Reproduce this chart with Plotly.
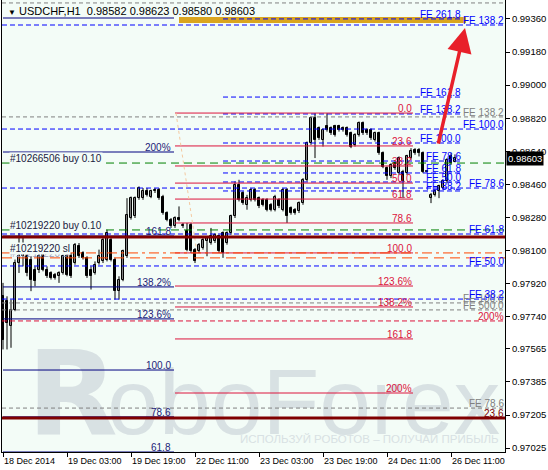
import plotly.graph_objects as go

# ---------------- price data (USDCHF H1) ----------------
opens = [0.97851, 0.97824, 0.97689, 0.97779, 0.98032, 0.98069, 0.98069, 0.98051, 0.97996, 0.97996,
         0.98078, 0.97996, 0.97978, 0.97969, 0.97960, 0.97978, 0.98069, 0.98069, 0.98032, 0.98123,
         0.98087, 0.98060, 0.97996, 0.97978, 0.98032, 0.98041, 0.98051, 0.98159, 0.98051, 0.97879,
         0.97942, 0.98069, 0.98277, 0.98286, 0.98385, 0.98385, 0.98422, 0.98394, 0.98422, 0.98431,
         0.98394, 0.98304, 0.98268, 0.98232, 0.98277, 0.98232, 0.98204, 0.98241, 0.98105, 0.98096,
         0.98114, 0.98150, 0.98141, 0.98150, 0.98177, 0.98195, 0.98141, 0.98195, 0.98286, 0.98458,
         0.98413, 0.98349, 0.98376, 0.98431, 0.98385, 0.98376, 0.98376, 0.98349, 0.98322, 0.98376,
         0.98322, 0.98431, 0.98331, 0.98322, 0.98313, 0.98358, 0.98485, 0.98684, 0.98820, 0.98765,
         0.98702, 0.98775, 0.98765, 0.98775, 0.98775, 0.98765, 0.98765, 0.98738, 0.98675, 0.98729,
         0.98793, 0.98756, 0.98756, 0.98702, 0.98738, 0.98630, 0.98548, 0.98503, 0.98575, 0.98521,
         0.98530, 0.98521, 0.98603, 0.98648, 0.98648, 0.98630, 0.98534, 0.98385, 0.98403, 0.98422,
         0.98440, 0.98476, 0.98612, 0.98582]
highs = [0.97924, 0.97851, 0.97833, 0.98051, 0.98195, 0.98177, 0.98087, 0.98069, 0.98014, 0.98087,
         0.98087, 0.98014, 0.97987, 0.97978, 0.97987, 0.98078, 0.98087, 0.98087, 0.98141, 0.98141,
         0.98096, 0.98069, 0.98014, 0.98041, 0.98105, 0.98168, 0.98213, 0.98168, 0.98060, 0.97960,
         0.98105, 0.98385, 0.98394, 0.98394, 0.98449, 0.98440, 0.98440, 0.98431, 0.98440, 0.98440,
         0.98403, 0.98313, 0.98277, 0.98286, 0.98340, 0.98250, 0.98250, 0.98250, 0.98114, 0.98141,
         0.98168, 0.98177, 0.98223, 0.98195, 0.98186, 0.98204, 0.98204, 0.98295, 0.98476, 0.98485,
         0.98422, 0.98403, 0.98440, 0.98440, 0.98394, 0.98385, 0.98385, 0.98358, 0.98403, 0.98385,
         0.98440, 0.98440, 0.98340, 0.98331, 0.98367, 0.98494, 0.98693, 0.98829, 0.98847, 0.98775,
         0.98765, 0.98847, 0.98775, 0.98784, 0.98784, 0.98775, 0.98775, 0.98747, 0.98738, 0.98802,
         0.98802, 0.98765, 0.98765, 0.98747, 0.98747, 0.98639, 0.98557, 0.98575, 0.98584, 0.98612,
         0.98539, 0.98621, 0.98657, 0.98657, 0.98657, 0.98639, 0.98536, 0.98413, 0.98431, 0.98458,
         0.98485, 0.98603, 0.98630, 0.98623]
lows = [0.97562, 0.97562, 0.97571, 0.97770, 0.97978, 0.98014, 0.97960, 0.97879, 0.97906, 0.97978,
        0.97987, 0.97951, 0.97942, 0.97942, 0.97924, 0.97969, 0.97960, 0.97951, 0.98023, 0.98060,
        0.98051, 0.97951, 0.97888, 0.97969, 0.98023, 0.98032, 0.98041, 0.98041, 0.97833, 0.97833,
        0.97933, 0.98060, 0.98268, 0.98277, 0.98376, 0.98376, 0.98394, 0.98385, 0.98413, 0.98376,
        0.98295, 0.98259, 0.98223, 0.98223, 0.98259, 0.98223, 0.98096, 0.98087, 0.98032, 0.98087,
        0.98105, 0.98069, 0.98132, 0.98141, 0.98087, 0.98060, 0.98132, 0.98186, 0.98277, 0.98367,
        0.98349, 0.98322, 0.98367, 0.98367, 0.98331, 0.98340, 0.98313, 0.98313, 0.98313, 0.98331,
        0.98313, 0.98250, 0.98295, 0.98295, 0.98304, 0.98349, 0.98476, 0.98675, 0.98603, 0.98702,
        0.98666, 0.98747, 0.98729, 0.98720, 0.98747, 0.98747, 0.98720, 0.98657, 0.98666, 0.98720,
        0.98729, 0.98729, 0.98702, 0.98693, 0.98621, 0.98548, 0.98485, 0.98494, 0.98539, 0.98512,
        0.98385, 0.98512, 0.98594, 0.98621, 0.98612, 0.98521, 0.98525, 0.98358, 0.98394, 0.98385,
        0.98431, 0.98467, 0.98566, 0.98580]
closes = [0.97616, 0.97707, 0.97779, 0.98032, 0.98069, 0.98105, 0.97978, 0.97942, 0.97933, 0.98069,
          0.97996, 0.97960, 0.97951, 0.97951, 0.97978, 0.98069, 0.97969, 0.97960, 0.98132, 0.98069,
          0.98060, 0.97960, 0.97960, 0.98023, 0.98069, 0.98159, 0.98195, 0.98051, 0.97879, 0.97942,
          0.98096, 0.98295, 0.98385, 0.98385, 0.98440, 0.98422, 0.98403, 0.98422, 0.98431, 0.98385,
          0.98304, 0.98268, 0.98232, 0.98277, 0.98268, 0.98241, 0.98105, 0.98096, 0.98041, 0.98132,
          0.98159, 0.98168, 0.98177, 0.98186, 0.98096, 0.98087, 0.98195, 0.98286, 0.98458, 0.98376,
          0.98358, 0.98385, 0.98431, 0.98376, 0.98340, 0.98349, 0.98322, 0.98322, 0.98394, 0.98340,
          0.98431, 0.98286, 0.98304, 0.98304, 0.98358, 0.98485, 0.98684, 0.98820, 0.98702, 0.98711,
          0.98756, 0.98756, 0.98738, 0.98729, 0.98756, 0.98756, 0.98729, 0.98666, 0.98729, 0.98796,
          0.98738, 0.98738, 0.98711, 0.98738, 0.98630, 0.98557, 0.98503, 0.98566, 0.98548, 0.98603,
          0.98476, 0.98612, 0.98639, 0.98630, 0.98630, 0.98530, 0.98527, 0.98403, 0.98422, 0.98449,
          0.98476, 0.98594, 0.98575, 0.98603]
bars = list(range(len(opens)))

# ---------------- axes ----------------
x_tick_bars = [0, 16, 32, 48, 64, 80, 96, 112]
x_tick_labels = ["18 Dec 2014", "19 Dec 03:00", "19 Dec 19:00", "22 Dec 11:00",
                 "23 Dec 03:00", "23 Dec 19:00", "24 Dec 11:00", "26 Dec 11:00"]
y_tick_values = [0.99360, 0.99180, 0.99000, 0.98820, 0.98640, 0.98460, 0.98280,
                 0.98100, 0.97920, 0.97740, 0.97565, 0.97385, 0.97205, 0.97025]
y_tick_labels = ["0.99360", "0.99180", "0.99000", "0.98820", "0.98640", "0.98460", "0.98280",
                 "0.98100", "0.97920", "0.97740", "0.97565", "0.97385", "0.97205", "0.97025"]
x_view = [-0.25, 125.5]
y_view = [0.97004, 0.99463]

# ---------------- analysis objects ----------------
left_fib_span = [0, 42.75]
left_fib_prices = [0.99365, 0.98636, 0.98179, 0.97902, 0.97728, 0.97450, 0.97195, 0.97004]
left_fib_labels = ["", "200%", "161.8", "138.2%", "123.6%", "100.0", "78.6", "61.8"]

red_fib_span = [43, 102.5]
red_fib_prices = [0.98848, 0.98669, 0.98560, 0.98467, 0.98380, 0.98250, 0.98087,
                  0.97907, 0.97793, 0.97619, 0.97325]
red_fib_labels = ["0.0", "23.6", "38.2", "50.0", "61.8", "78.6", "100.0",
                  "123.6%", "138.2%", "161.8", "200%"]
red_fib_trend = [[43.25, 48.5], [0.98848, 0.98087]]

mid_fe_span = [55, 114.75]
mid_fe_prices = [0.99360, 0.98935, 0.98843, 0.98685, 0.98587, 0.98522, 0.98473, 0.98424]
mid_fe_labels = ["FE 261.8", "FE 161.8", "FE 138.2", "FE 100.0", "FE 78.6",
                 "FE 61.8", "FE 50.0", "FE 38.2"]

right_fe_prices = [0.99327, 0.98761, 0.98440, 0.98190, 0.98016, 0.97836]
right_fe_labels = ["FE 138.2", "FE 100.0", "FE 78.6", "FE 61.8", "FE 50.0", "FE 38.2"]

grey_fe_prices = [0.99447, 0.98827, 0.97815, 0.97777, 0.97243]
grey_fe_labels = ["", "FE 138.2", "FE 100.0", "FE 500.0", "FE 78.6"]

red_dash_price, red_dash_label = 0.97717, "200%"
maroon_prices = [0.98174, 0.97189]
maroon_labels = ["", "23.6"]
order_prices = [0.98576, 0.98212]
order_labels = ["#10266506 buy 0.10", "#10219220 buy 0.10"]
sl_prices = [0.98087, 0.98060]
sl_labels = ["#10219220 sl", "#10219220 sl"]

target_zone = dict(bar0=44, bar1=115.75, low=0.99338, high=0.99371)
arrow_from = (108.75, 0.98674)
arrow_to = (115.5, 0.99311)
last_price = 0.98603
header = "USDCHF,H1\u00a0\u00a00.98582 0.98623 0.98580 0.98603"

# ---------------- styling ----------------
FONT = "Liberation Sans, Arial, sans-serif"
FS = 10
FS_AX = 9.5
FS_X = 9
PLOT_BG = "#F3FCF7"
NAVY = "#000080"
CRIMSON = "#DC143C"
BLUE = "#0000FF"
GREY = "#808080"
MAROON = "#800000"
GREEN = "#008000"
ORANGE = "#FF4500"
WM = "#D8E1E3"

fig = go.Figure()

wx, wy = [], []
for i, h, l in zip(bars, highs, lows):
    wx += [i, i, None]
    wy += [l, h, None]
fig.add_trace(go.Scatter(x=wx, y=wy, mode="lines", line=dict(color="black", width=1),
                         hoverinfo="skip", showlegend=False))
body_base = [min(o, c) for o, c in zip(opens, closes)]
body_len = [max(abs(c - o), 0.00002) for o, c in zip(opens, closes)]
body_col = ["white" if c >= o else "black" for o, c in zip(opens, closes)]
fig.add_trace(go.Bar(x=bars, y=body_len, base=body_base, width=0.5,
                     marker=dict(color=body_col, line=dict(color="black", width=1)),
                     hoverinfo="skip", showlegend=False))

shapes = []
annotations = []

# watermark
shapes.append(dict(type="rect", xref="paper", yref="paper", x0=0.03, x1=0.25, y0=0.055, y1=0.235,
                   line=dict(width=0), layer="below",
                   label=dict(text="<b>R</b>", textposition="middle center",
                              font=dict(family="DejaVu Sans, sans-serif", size=118, color=WM))))
shapes.append(dict(type="rect", xref="paper", yref="paper", x0=0.25, x1=0.95, y0=0.06, y1=0.20,
                   line=dict(width=0), layer="below",
                   label=dict(text="oboForex", textposition="middle center",
                              font=dict(family=FONT, size=93, color=WM))))
shapes.append(dict(type="rect", xref="paper", yref="paper", x0=0.5, x1=0.96, y0=0.02, y1=0.046,
                   line=dict(width=0), layer="below",
                   label=dict(text="ИСПОЛЬЗУЙ РОБОТОВ – ПОЛУЧАЙ ПРИБЫЛЬ", textposition="middle center",
                              font=dict(family=FONT, size=11.5, color=WM))))


def hline(y, x0, x1, color, width=1, dash="solid", xref="x"):
    shapes.append(dict(type="line", xref=xref, yref="y", x0=x0, x1=x1, y0=y, y1=y,
                       line=dict(color=color, width=width, dash=dash), layer="above"))


def label(text, x, y, color, anchor="right", xref="x", xshift=0, bg=None, yshift=-2):
    if not text:
        return
    a = dict(text=text, x=x, y=y, xref=xref, yref="y", xanchor=anchor, yanchor="bottom",
             showarrow=False, font=dict(family=FONT, size=FS, color=color),
             xshift=xshift, yshift=yshift, borderpad=0)
    if bg:
        a["bgcolor"] = bg
    annotations.append(a)


DASH = "5px,3px"

shapes.append(dict(type="rect", xref="x", yref="y", x0=target_zone["bar0"], x1=target_zone["bar1"],
                   y0=target_zone["low"], y1=target_zone["high"], fillcolor="#DAA520",
                   line=dict(width=0), layer="above"))

for p, t in zip(grey_fe_prices, grey_fe_labels):
    hline(p, 0, 1, GREY, dash="4px,3px", xref="paper")
    label(t, 1, p, GREY, xref="paper")
for p, t in zip(right_fe_prices, right_fe_labels):
    hline(p, 0, 1, BLUE, dash=DASH, xref="paper")
    label(t, 1, p, BLUE, xref="paper")
for p, t in zip(mid_fe_prices, mid_fe_labels):
    hline(p, mid_fe_span[0], mid_fe_span[1], BLUE, dash=DASH)
    label(t, mid_fe_span[1], p, BLUE)
for p, t in zip(left_fib_prices, left_fib_labels):
    hline(p, left_fib_span[0], left_fib_span[1], NAVY)
    label(t, left_fib_span[1], p, "#1c1c78", xshift=-2)
for p, t in zip(red_fib_prices, red_fib_labels):
    hline(p, red_fib_span[0], red_fib_span[1], CRIMSON)
    label(t, red_fib_span[1], p, CRIMSON)
shapes.append(dict(type="line", xref="x", yref="y", x0=red_fib_trend[0][0], x1=red_fib_trend[0][1],
                   y0=red_fib_trend[1][0], y1=red_fib_trend[1][1],
                   line=dict(color="#F5C9A0", width=1, dash="dot"), layer="above"))

hline(red_dash_price, 0, 1, CRIMSON, dash=DASH, xref="paper")
label(red_dash_label, 1, red_dash_price, CRIMSON, xref="paper")
for p, t in zip(maroon_prices, maroon_labels):
    hline(p, 0, 1, MAROON, width=3, xref="paper")
    label(t, 1, p, MAROON, xref="paper")
for p, t in zip(order_prices, order_labels):
    hline(p, 0, 1, GREEN, dash="8px,5px", xref="paper")
    label(t, 0, p, "#202040", anchor="left", xref="paper", xshift=7, bg=PLOT_BG)
hline(sl_prices[0], 0, 1, ORANGE, dash="10px,4px,3px,4px", xref="paper")
hline(sl_prices[1], 0, 1, ORANGE, dash="10px,6px", xref="paper")
label(sl_labels[1], 0, sl_prices[1], "#9a9ab4", anchor="left", xref="paper", xshift=7)
label(sl_labels[0], 0, sl_prices[0], "#202040", anchor="left", xref="paper", xshift=7, bg=PLOT_BG)

annotations.append(dict(x=arrow_to[0], y=arrow_to[1], ax=arrow_from[0], ay=arrow_from[1],
                        xref="x", yref="y", axref="x", ayref="y", text="", showarrow=True,
                        arrowhead=2, arrowsize=1.4, arrowwidth=3.5, arrowcolor="#E8202A"))

annotations.append(dict(x=0, y=1, xref="paper", yref="paper", xanchor="left", yanchor="top",
                        xshift=5, yshift=-4, showarrow=False, borderpad=0,
                        text="<span style='font-size:8px'>▼</span>\u00a0" + header,
                        font=dict(family=FONT, size=11, color="black")))

annotations.append(dict(x=1, y=last_price, xref="paper", yref="y", xanchor="left", yanchor="middle",
                        xshift=1, showarrow=False, text="%.5f" % last_price, bgcolor="black",
                        borderpad=1, font=dict(family=FONT, size=FS_AX, color="white")))

fig.update_layout(
    width=548, height=470,
    margin=dict(l=2, r=43, t=0, b=18),
    paper_bgcolor="white", plot_bgcolor=PLOT_BG,
    showlegend=False, bargap=0,
    shapes=shapes, annotations=annotations,
    xaxis=dict(range=x_view, tickvals=x_tick_bars, ticktext=x_tick_labels, tickangle=0,
               ticklabelposition="outside right", ticks="outside", ticklen=4, tickcolor="black",
               showgrid=False, zeroline=False, showline=True, linecolor="black", linewidth=1,
               tickfont=dict(family=FONT, size=FS_X, color="black")),
    yaxis=dict(range=y_view, side="right", tickvals=y_tick_values, ticktext=y_tick_labels,
               ticks="outside", ticklen=4, tickcolor="black",
               showgrid=False, zeroline=False, showline=True, mirror=True,
               linecolor="black", linewidth=1,
               tickfont=dict(family=FONT, size=FS_AX, color="black")),
)

fig.write_html("out.html", config={"displayModeBar": False},
               post_script="document.body.style.margin='0';document.body.style.overflow='hidden';")
